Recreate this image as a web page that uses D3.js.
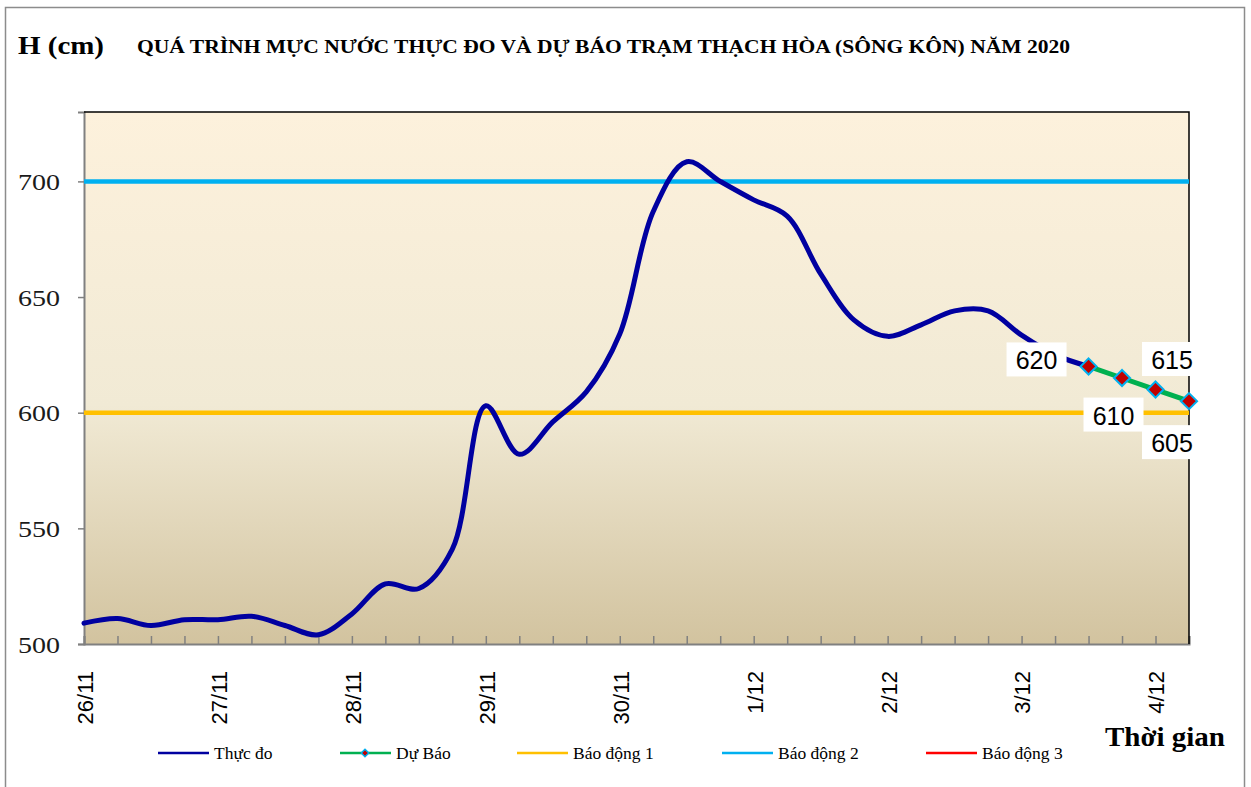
<!DOCTYPE html>
<html>
<head>
<meta charset="utf-8">
<script src="https://cdn.jsdelivr.net/npm/d3@7"></script>
<style>
  html, body { margin: 0; padding: 0; background: #fff; }
  svg { display: block; }
</style>
</head>
<body>
<svg id="chart" width="1251" height="787"></svg>
<script>
// ---------------- DATA ----------------
const dayLabels = ["26/11", "27/11", "28/11", "29/11", "30/11", "1/12", "2/12", "3/12", "4/12"];
const stepsPerDay = 4;   // 6-hourly observations
const nPoints = 34;

// measured water level (Thực đo), indices 0..30
const measured = [509, 511, 508, 510.5, 510.5, 512, 508, 504, 513, 526, 524, 541,
  603, 582, 596, 609, 634, 687, 708.5, 700, 692, 685, 660, 640, 633, 638, 644, 644,
  633.5, 625, 620];
// forecast (Dự Báo), indices 30..33
const forecastStart = 30;
const forecast = [620, 615, 610, 605];
const forecastLabels = ["620", "615", "610", "605"];

// alarm levels
const alarmNames = ["Báo động 1", "Báo động 2", "Báo động 3"];
const alarmLevels = [600, 700, 800];
const alarmColors = ["#ffc000", "#00b0f0", "#ff0000"];

const yTicks = [500, 550, 600, 650, 700];

// ---------------- LAYOUT ----------------
const svg = d3.select("#chart");
const plot = { left: 84, right: 1189, top: 112, bottom: 644 };

const x = d3.scaleLinear().domain([0, nPoints - 1]).range([plot.left, plot.right]);
const y = d3.scaleLinear().domain([500, 730]).range([plot.bottom, plot.top]);

const defs = svg.append("defs");
const grad = defs.append("linearGradient").attr("id", "bg").attr("x1", 0).attr("y1", 0).attr("x2", 0).attr("y2", 1);
grad.append("stop").attr("offset", "0%").attr("stop-color", "#fdf1dc");
grad.append("stop").attr("offset", "55%").attr("stop-color", "#f1ead5");
grad.append("stop").attr("offset", "100%").attr("stop-color", "#d2c39f");
defs.append("clipPath").attr("id", "clip").append("rect")
  .attr("x", plot.left).attr("y", plot.top)
  .attr("width", plot.right - plot.left).attr("height", plot.bottom - plot.top);

// outer chart frame
svg.append("rect").attr("x", 5.5).attr("y", 7.5).attr("width", 1239).attr("height", 790)
  .attr("fill", "#fff").attr("stroke", "#8c8c8c").attr("stroke-width", 1.5);

// plot area
svg.append("rect").attr("x", plot.left).attr("y", plot.top)
  .attr("width", plot.right - plot.left).attr("height", plot.bottom - plot.top)
  .attr("fill", "url(#bg)");

// titles
svg.append("text").attr("x", 18).attr("y", 54)
  .attr("font-family", "Liberation Serif, Times New Roman, serif").attr("font-weight", "bold")
  .attr("font-size", 25).attr("fill", "#000")
  .attr("textLength", 86).attr("lengthAdjust", "spacingAndGlyphs").text("H (cm)");
svg.append("text").attr("x", 137).attr("y", 53)
  .attr("font-family", "Liberation Serif, Times New Roman, serif").attr("font-weight", "bold")
  .attr("font-size", 18).attr("fill", "#000")
  .attr("textLength", 933).attr("lengthAdjust", "spacingAndGlyphs")
  .text("QUÁ TRÌNH MỰC NƯỚC THỰC ĐO VÀ DỰ BÁO TRẠM THẠCH HÒA (SÔNG KÔN) NĂM 2020");

// y axis
const yAxis = d3.axisLeft(y).tickValues(yTicks).tickSize(6).tickPadding(18);
const gy = svg.append("g").attr("transform", `translate(${plot.left},0)`).call(yAxis);
gy.select(".domain").attr("stroke", "#808080").attr("stroke-width", 2);
gy.selectAll(".tick line").attr("stroke", "#808080").attr("stroke-width", 1.5);
gy.selectAll(".tick text").attr("font-family", "Liberation Serif, Times New Roman, serif")
  .attr("font-size", 23).attr("fill", "#1a1a1a").attr("dy", "0.36em")
  .attr("textLength", 42).attr("lengthAdjust", "spacingAndGlyphs");

// x axis (inward ticks at every observation)
const xAxis = d3.axisBottom(x).tickValues(d3.range(nPoints)).tickSize(-8).tickFormat("");
const gx = svg.append("g").attr("transform", `translate(0,${plot.bottom})`).call(xAxis);
gx.select(".domain").attr("stroke", "#808080").attr("stroke-width", 2);
gx.selectAll(".tick line").attr("stroke", "#808080").attr("stroke-width", 1.5);

// x day labels (rotated)
svg.append("g").selectAll("text").data(dayLabels).join("text")
  .attr("transform", (d, i) => `translate(${x(i * stepsPerDay) + 1},671) rotate(-90)`)
  .attr("text-anchor", "end").attr("dy", "0.36em")
  .attr("font-family", "Liberation Sans, Arial, sans-serif").attr("font-size", 22)
  .attr("fill", "#000").text(d => d);

// plot border top/right
svg.append("path")
  .attr("d", `M${plot.left},${plot.top}H${plot.right}V${plot.bottom}`)
  .attr("fill", "none").attr("stroke", "#000").attr("stroke-width", 1.5);

const gPlot = svg.append("g").attr("clip-path", "url(#clip)");

// alarm lines
alarmLevels.forEach((v, i) => {
  gPlot.append("line").attr("x1", x(0)).attr("x2", x(nPoints - 1))
    .attr("y1", y(v)).attr("y2", y(v))
    .attr("stroke", alarmColors[i]).attr("stroke-width", 4.5);
});

// measured line
const line = d3.line().x((d, i) => x(i)).y(d => y(d)).curve(d3.curveCatmullRom.alpha(0.5));
svg.append("path").datum(measured).attr("d", line)
  .attr("fill", "none").attr("stroke", "#0000a0").attr("stroke-width", 5)
  .attr("stroke-linejoin", "round").attr("stroke-linecap", "round");

// forecast line
const fLine = d3.line().x((d, i) => x(forecastStart + i)).y(d => y(d));
svg.append("path").datum(forecast).attr("d", fLine)
  .attr("fill", "none").attr("stroke", "#00b050").attr("stroke-width", 5);

const diamond = d3.symbol().type(d3.symbolDiamond2).size(165);
svg.append("g").selectAll("path").data(forecast).join("path")
  .attr("transform", (d, i) => `translate(${x(forecastStart + i)},${y(d)})`)
  .attr("d", diamond).attr("fill", "#c00000").attr("stroke", "#00b0f0").attr("stroke-width", 2);

// forecast data labels (offset from each point)
const labelOffsets = [[-52, -6], [50, -18], [-42, 26], [-17, 42]];
const lab = svg.append("g").selectAll("g").data(forecast).join("g")
  .attr("transform", (d, i) => `translate(${x(forecastStart + i) + labelOffsets[i][0]},${y(d) + labelOffsets[i][1]})`);
lab.append("rect").attr("x", -30).attr("y", -18).attr("width", 60).attr("height", 34).attr("fill", "#fff");
lab.append("text").attr("text-anchor", "middle").attr("dy", "0.36em")
  .attr("font-family", "Liberation Sans, Arial, sans-serif").attr("font-size", 25)
  .attr("fill", "#000").text((d, i) => forecastLabels[i]);

// x axis title
svg.append("text").attr("x", 1105).attr("y", 746)
  .attr("font-family", "Liberation Serif, Times New Roman, serif").attr("font-weight", "bold")
  .attr("font-size", 27).attr("fill", "#000")
  .attr("textLength", 120).attr("lengthAdjust", "spacingAndGlyphs").text("Thời gian");

// legend
const legendItems = [
  { name: "Thực đo", color: "#0000a0", x: 158, marker: false },
  { name: "Dự Báo", color: "#00b050", x: 340, marker: true },
  { name: alarmNames[0], color: alarmColors[0], x: 517, marker: false },
  { name: alarmNames[1], color: alarmColors[1], x: 722, marker: false },
  { name: alarmNames[2], color: alarmColors[2], x: 926, marker: false }
];
const lg = svg.append("g").selectAll("g").data(legendItems).join("g")
  .attr("transform", d => `translate(${d.x},753)`);
lg.append("line").attr("x1", 0).attr("x2", 51).attr("stroke", d => d.color).attr("stroke-width", 2.5);
lg.filter(d => d.marker).append("path").attr("transform", "translate(25,0)")
  .attr("d", d3.symbol().type(d3.symbolDiamond2).size(36))
  .attr("fill", "#c00000").attr("stroke", "#00b0f0").attr("stroke-width", 1.5);
lg.append("text").attr("x", 56).attr("dy", "0.35em")
  .attr("font-family", "Liberation Serif, Times New Roman, serif").attr("font-size", 17.5)
  .attr("fill", "#000").text(d => d.name);
</script>
</body>
</html>
